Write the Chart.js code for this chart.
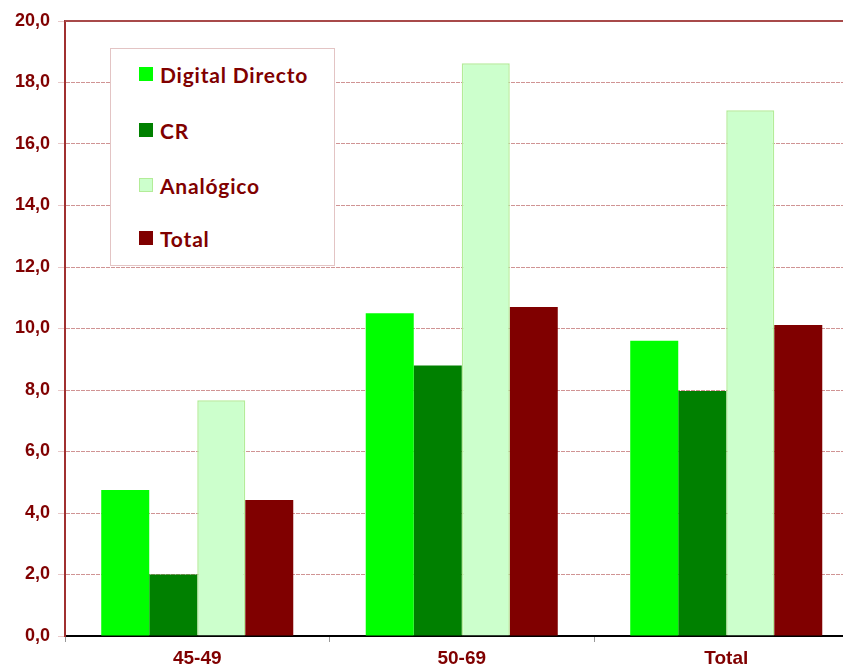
<!DOCTYPE html>
<html>
<head>
<meta charset="utf-8">
<script src="https://cdn.jsdelivr.net/npm/chart.js@4"></script>
<style>
  html, body { margin: 0; padding: 0; background: #fff; overflow: hidden; }
  #wrap { position: relative; width: 843px; height: 671px; overflow: hidden; }
  #holder { position: absolute; left: 0; top: 0; width: 880px; height: 671px; }
  #legend { position: absolute; left: 110px; top: 48px; width: 225px; height: 218px;
    border: 1px solid #e3c4c4; background: #fff; box-sizing: border-box; }
  .item { position: absolute; left: 28px; height: 24px; display: flex; align-items: center;
    font: bold 21px Lato, "Open Sans", sans-serif; letter-spacing: 0.8px; color: #800000; }
  .item span.box { width: 14px; height: 14px; margin-right: 7px; box-sizing: border-box; }
</style>
</head>
<body>
<div id="wrap">
  <div id="holder"><canvas id="barChart" width="880" height="671"></canvas></div>
  <div id="legend"></div>
</div>
<script>
// categories and series
var categories = ["45-49", "50-69", "Total"];
var seriesNames = ["Digital Directo", "CR", "Analógico", "Total"];
var digitalDirecto = [4.75, 10.5, 9.6];
var cr = [2.0, 8.8, 7.97];
var analogico = [7.67, 18.63, 17.1];
var total = [4.42, 10.7, 10.11];
var yTicks = [0, 2, 4, 6, 8, 10, 12, 14, 16, 18, 20];

var colors = ["#00ff00", "#008000", "#ccffcc", "#800000"];
var borders = ["#00ff00", "#008000", "#b3ec98", "#800000"];
var allData = [digitalDirecto, cr, analogico, total];

var datasets = [];
for (var i = 0; i < seriesNames.length; i++) {
    datasets.push({
        label: seriesNames[i],
        data: allData[i],
        backgroundColor: colors[i],
        borderColor: borders[i],
        borderWidth: i == 2 ? 1.5 : 0,
        categoryPercentage: 0.726,
        barPercentage: 1.0
    });
}

// solid top border line of plot
var topLine = {
    id: 'topLine',
    afterDraw: function(chart) {
        var a = chart.chartArea, c = chart.ctx;
        c.save();
        c.strokeStyle = '#a84a4a';
        c.lineWidth = 2;
        c.beginPath();
        c.moveTo(a.left, a.top);
        c.lineTo(a.right, a.top);
        c.stroke();
        c.restore();
    }
};

var ctx = document.getElementById("barChart").getContext("2d");
new Chart(ctx, {
    type: 'bar',
    data: { labels: categories, datasets: datasets },
    plugins: [topLine],
    options: {
        responsive: false,
        animation: false,
        layout: { padding: { left: 0, top: 21, right: 21.5, bottom: 0 } },
        plugins: { legend: { display: false }, tooltip: { enabled: false } },
        scales: {
            x: {
                offset: true,
                grid: { drawOnChartArea: false, offset: true, tickLength: 6, color: '#999999' },
                border: { color: '#000000', width: 2 },
                ticks: { color: '#800000', padding: 5, font: { family: 'Liberation Sans', size: 19, weight: 'bold' } },
                afterFit: function(s) { s.height = 35; }
            },
            y: {
                min: 0, max: 20,
                afterBuildTicks: function(s) { s.ticks = yTicks.map(function(v) { return { value: v }; }); },
                grid: { color: '#d09494', tickColor: '#e8c8c8', tickLength: 7, lineWidth: 1 },
                border: { color: '#a03030', width: 2, dash: [4, 1] },
                ticks: {
                    color: '#800000', padding: 8,
                    font: { family: 'Liberation Sans', size: 18, weight: 'bold' },
                    callback: function(v) { return v.toFixed(1).replace('.', ','); }
                },
                afterFit: function(s) { s.width = 65; }
            }
        }
    }
});

// legend box
var lg = document.getElementById('legend');
var rowTops = [13, 69, 124, 177];
for (var j = 0; j < seriesNames.length; j++) {
    var d = document.createElement('div');
    d.className = 'item';
    d.style.top = rowTops[j] + 'px';
    var b = document.createElement('span');
    b.className = 'box';
    b.style.background = colors[j];
    if (j == 2) b.style.border = '1px solid #b3ec98';
    d.appendChild(b);
    d.appendChild(document.createTextNode(seriesNames[j]));
    lg.appendChild(d);
}
</script>
</body>
</html>
